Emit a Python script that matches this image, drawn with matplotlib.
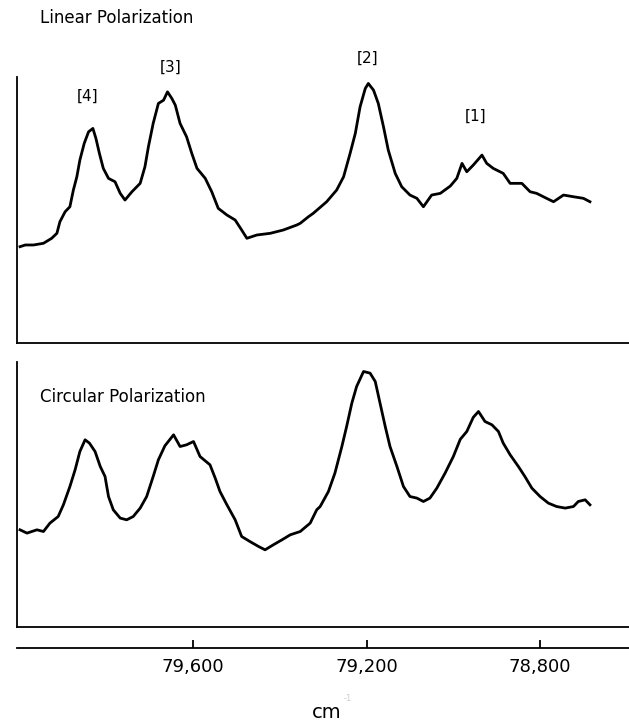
import matplotlib.pyplot as plt

# wavenumber (cm-1) and intensity (arb. units)
wn_linear = [79999, 79987, 79968, 79945, 79926, 79914, 79907, 79895, 79884, 79876,
             79868, 79861, 79851, 79841, 79831, 79824, 79816, 79807, 79795, 79780,
             79768, 79757, 79741, 79722, 79711, 79703, 79692, 79680, 79668, 79659,
             79649, 79641, 79630, 79615, 79603, 79591, 79572, 79557, 79542, 79522,
             79503, 79488, 79476, 79453, 79422, 79392, 79361, 79353, 79334, 79323,
             79292, 79269, 79253, 79238, 79226, 79215, 79203, 79196, 79184, 79173,
             79161, 79150, 79134, 79119, 79100, 79084, 79069, 79050, 79030, 79007,
             78992, 78980, 78969, 78954, 78934, 78923, 78908, 78885, 78869, 78842,
             78823, 78808, 78785, 78769, 78746, 78723, 78700, 78685]
int_linear = [96.3, 98, 98, 99.7, 104.7, 109.7, 121.3, 131.3, 136.3, 153,
              166.3, 183, 199.7, 211.3, 214.7, 204.7, 189.7, 174.7, 164.7, 161.3,
              149.7, 143, 151.3, 159.7, 176.3, 196.3, 219.7, 239.7, 243, 251.3,
              244.7, 238, 219.7, 206.3, 189.7, 174.7, 164.7, 151.3, 134.7, 128,
              123, 113, 104.7, 108, 109.7, 113, 118, 119.7, 126.3, 129.7,
              141.3, 153, 166.3, 189.7, 209.7, 236.3, 254.7, 259.7, 253, 239.7,
              216.3, 193, 169.7, 156.3, 148, 144.7, 136.3, 148, 149.7, 157,
              164.7, 179.7, 171.3, 178, 188, 179.7, 174.7, 169.7, 159.7, 159.7,
              151.3, 149.7, 144.7, 141.3, 148, 146.3, 144.7, 141.3]

wn_circular = [79999, 79983, 79960, 79945, 79930, 79911, 79899, 79884, 79872, 79861,
               79849, 79839, 79826, 79814, 79803, 79795, 79784, 79768, 79753, 79738,
               79722, 79707, 79692, 79680, 79665, 79645, 79630, 79615, 79599, 79584,
               79561, 79549, 79538, 79522, 79503, 79488, 79469, 79449, 79434, 79415,
               79395, 79376, 79353, 79330, 79315, 79307, 79288, 79273, 79257, 79246,
               79234, 79223, 79207, 79192, 79180, 79169, 79157, 79146, 79130, 79115,
               79100, 79084, 79069, 79054, 79038, 79019, 79000, 78984, 78969, 78954,
               78942, 78927, 78911, 78896, 78885, 78869, 78850, 78835, 78819, 78800,
               78781, 78762, 78742, 78723, 78712, 78696, 78685]
int_circular = [97, 93.7, 97, 95.3, 103.7, 110.3, 122, 140.3, 157, 175.3,
                187, 183.7, 175.3, 160.3, 150.3, 130.3, 117, 108.7, 107, 110.3,
                118.7, 130.3, 150.3, 167, 181, 192, 180.3, 182, 185.3, 170.3,
                162, 148.7, 135.3, 122, 107, 90.3, 85.3, 80.3, 77, 82,
                87, 92, 95.3, 103.7, 117, 120.3, 135.3, 153.7, 180.3, 200.3,
                223.7, 240.3, 255.3, 253.7, 245.3, 223.7, 200.3, 180.3, 160.3, 140.3,
                130.3, 128.7, 125.3, 128.7, 138.7, 153.7, 170.3, 187.5, 195.3, 209.5,
                215.3, 205.3, 202, 195.3, 183.7, 172, 160.3, 150.3, 138.7, 130.3,
                123.7, 120.3, 118.7, 120.3, 125.3, 127, 122]

peak_labels = ['[4]', '[3]', '[2]', '[1]']
peak_label_wn = [79843, 79652, 79197, 78948]
peak_label_int = [247, 276, 285, 227]

tick_vals = [79600, 79200, 78800]
tick_text = ['79,600', '79,200', '78,800']

XLIM = (80006, 78595)

fig = plt.figure(figsize=(6.29, 7.28), dpi=100)
ax1 = fig.add_axes([0.027, 0.529, 0.973, 0.365])
ax2 = fig.add_axes([0.027, 0.139, 0.973, 0.364])
ax3 = fig.add_axes([0.027, 0.110, 0.973, 0.001])

for ax in (ax1, ax2):
    ax.set_xlim(*XLIM)
    ax.set_xticks([])
    ax.set_yticks([])
    ax.spines['top'].set_visible(False)
    ax.spines['right'].set_visible(False)
    ax.spines['left'].set_linewidth(1.3)
    ax.spines['bottom'].set_linewidth(1.3)

ax1.plot(wn_linear, int_linear, color='black', lw=2.0, solid_joinstyle='round')
ax1.set_ylim(0, 266)
ax2.plot(wn_circular, int_circular, color='black', lw=2.0, solid_joinstyle='round')
ax2.set_ylim(0, 265)

for lab, x, y in zip(peak_labels, peak_label_wn, peak_label_int):
    ax1.text(x, y, lab, ha='center', va='center', fontsize=11, clip_on=False)

fig.text(0.064, 0.975, 'Linear Polarization', fontsize=12, va='center')
fig.text(0.064, 0.455, 'Circular Polarization', fontsize=12, va='center')

# separate wavenumber axis under the two panels
ax3.set_xlim(*XLIM)
ax3.set_yticks([])
for s in ('top', 'right', 'left'):
    ax3.spines[s].set_visible(False)
ax3.spines['bottom'].set_linewidth(1.3)
ax3.set_xticks(tick_vals)
ax3.set_xticklabels(tick_text, fontsize=13)
ax3.tick_params(axis='x', direction='in', length=6, width=1.3, pad=7)

fig.text(0.52, 0.008, 'cm', fontsize=14, ha='center', va='bottom')
fig.text(0.547, 0.034, '-1', fontsize=6, color='#cccccc', ha='left', va='bottom')

fig.savefig('out.png', dpi=100)
